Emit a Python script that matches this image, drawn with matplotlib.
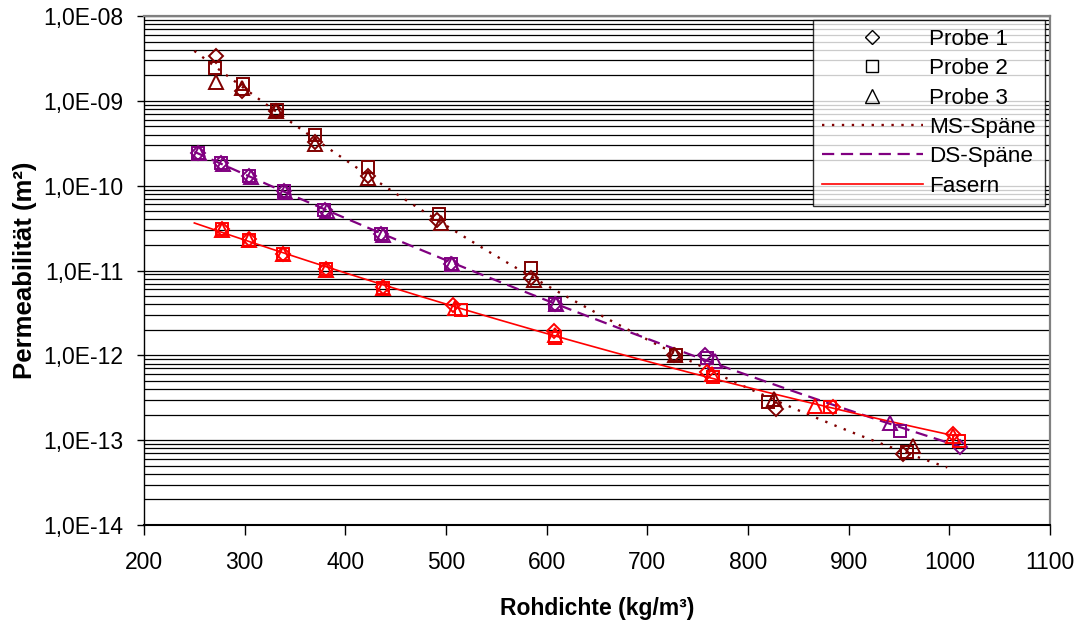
import numpy as np
import matplotlib
matplotlib.use("Agg")
import matplotlib.pyplot as plt
from matplotlib.lines import Line2D
from matplotlib.ticker import FuncFormatter, LogLocator, NullFormatter

plt.rcParams['font.family'] = ['Liberation Sans', 'DejaVu Sans']

# Rohdichte (kg/m³) und Permeabilität (m²) je Material und Probe
ms_x1 = [271.5, 297, 331, 370, 423, 491, 584, 726, 828, 954]
ms_y1 = [3.4e-9, 1.32e-9, 7.6e-10, 3.3e-10, 1.29e-10, 3.9e-11, 8.2e-12, 1.0e-12, 2.32e-13, 6.85e-14]
ms_x2 = [271, 298, 332, 370, 423, 493, 584, 728, 820, 958]
ms_y2 = [2.43e-9, 1.58e-9, 7.8e-10, 3.98e-10, 1.64e-10, 4.68e-11, 1.07e-11, 1.02e-12, 2.8e-13, 7.2e-14]
ms_x3 = [272, 297, 331, 370, 423, 495, 587, 727, 826, 964]
ms_y3 = [1.68e-9, 1.41e-9, 7.5e-10, 3.1e-10, 1.23e-10, 3.67e-11, 7.8e-12, 1.0e-12, 3.09e-13, 8.6e-14]

ds_x1 = [254, 276.5, 304.5, 339, 380, 435, 505, 608, 757, 1010.5]
ds_y1 = [2.43e-10, 1.85e-10, 1.29e-10, 8.6e-11, 5.2e-11, 2.66e-11, 1.2e-11, 4.07e-12, 1.02e-12, 8.2e-14]
ds_x2 = [254, 276.5, 304.5, 339, 379, 435, 505, 608, 759, 951]
ds_y2 = [2.43e-10, 1.85e-10, 1.29e-10, 8.6e-11, 5.2e-11, 2.66e-11, 1.2e-11, 4.07e-12, 9.3e-13, 1.29e-13]
ds_x3 = [255, 278, 306, 340, 381.5, 437, 506, 609, 767, 941]
ds_y3 = [2.4e-10, 1.82e-10, 1.27e-10, 8.4e-11, 5.0e-11, 2.6e-11, 1.18e-11, 4.0e-12, 8.6e-13, 1.58e-13]

fa_x1 = [277, 304.5, 338, 380.5, 437, 507, 607, 759, 884, 1004]
fa_y1 = [3.1e-11, 2.32e-11, 1.58e-11, 1.05e-11, 6.4e-12, 3.9e-12, 1.93e-12, 6.4e-13, 2.43e-13, 1.17e-13]
fa_x2 = [277, 304.5, 338, 380.5, 437, 514.5, 608, 765.5, 881, 1010]
fa_y2 = [3.05e-11, 2.3e-11, 1.55e-11, 1.03e-11, 6.3e-12, 3.46e-12, 1.62e-12, 5.5e-13, 2.43e-13, 9.8e-14]
fa_x3 = [277, 304.5, 338, 380.5, 437, 509, 608, 764, 866.5, 1004]
fa_y3 = [3.0e-11, 2.28e-11, 1.55e-11, 1.02e-11, 6.2e-12, 3.6e-12, 1.73e-12, 6.0e-13, 2.5e-13, 1.12e-13]

materials = ['MS-Späne', 'DS-Späne', 'Fasern']
probes = ['Probe 1', 'Probe 2', 'Probe 3']

fig = plt.figure(figsize=(10.8, 6.26), dpi=100)
ax = fig.add_axes([144 / 1080, 1 - 525 / 626, 906 / 1080, 509 / 626])

colors = {'MS-Späne': '#800000', 'DS-Späne': '#800080', 'Fasern': '#ff0000'}
styles = {'MS-Späne': (0, (1.0, 3.2)), 'DS-Späne': (0, (5.5, 3.0)), 'Fasern': '-'}
widths = {'MS-Späne': 1.7, 'DS-Späne': 1.6, 'Fasern': 1.2}
markers = [('D', 7), ('s', 8.5), ('^', 9.5)]
trend_range = {'MS-Späne': (250, 998), 'DS-Späne': (250, 1010), 'Fasern': (250, 1005)}

data = {
    'MS-Späne': [(ms_x1, ms_y1), (ms_x2, ms_y2), (ms_x3, ms_y3)],
    'DS-Späne': [(ds_x1, ds_y1), (ds_x2, ds_y2), (ds_x3, ds_y3)],
    'Fasern': [(fa_x1, fa_y1), (fa_x2, fa_y2), (fa_x3, fa_y3)],
}

for mat in materials:
    c = colors[mat]
    # Trendlinie: quadratischer Fit von log10(k) über alle drei Proben
    xs = np.concatenate([np.asarray(x, float) for x, _ in data[mat]])
    ys = np.concatenate([np.log10(y) for _, y in data[mat]])
    coef = np.polyfit(xs, ys, 2)
    xt = np.linspace(*trend_range[mat], 300)
    ax.plot(xt, 10 ** np.polyval(coef, xt), color=c, linestyle=styles[mat],
            linewidth=widths[mat], zorder=3)
    for (x, y), (m, ms) in zip(data[mat], markers):
        ax.plot(x, y, linestyle='none', marker=m, markersize=ms,
                markerfacecolor='none', markeredgecolor=c, markeredgewidth=1.4, zorder=4)

ax.set_yscale('log')
ax.set_xlim(200, 1100)
ax.set_ylim(1e-14, 1e-8)
ax.set_xticks(np.arange(200, 1101, 100))


def sci_comma(v, pos):
    e = int(np.round(np.log10(v)))
    return f"1,0E{e:+03d}"


ax.yaxis.set_major_locator(LogLocator(base=10, numticks=10))
ax.yaxis.set_major_formatter(FuncFormatter(sci_comma))
ax.yaxis.set_minor_locator(LogLocator(base=10, subs=np.arange(2, 10), numticks=100))
ax.yaxis.set_minor_formatter(NullFormatter())

ax.grid(True, which='both', axis='y', color='black', linewidth=0.9)
ax.set_axisbelow(True)

ax.tick_params(axis='y', which='major', direction='out', length=5, width=1, pad=10, labelsize=16.5)
ax.tick_params(axis='y', which='minor', length=0)
ax.tick_params(axis='x', direction='out', length=7, width=1, pad=12, labelsize=16.5)

for side in ('top', 'right'):
    ax.spines[side].set_color('#808080')
    ax.spines[side].set_linewidth(1.6)
ax.spines['left'].set_linewidth(1.0)
ax.spines['bottom'].set_linewidth(1.5)

ax.set_xlabel('Rohdichte (kg/m³)', fontsize=16.5, fontweight='bold', labelpad=16)
ax.set_ylabel('Permeabilität (m²)', fontsize=18.5, fontweight='bold', labelpad=4)

handles = [Line2D([], [], linestyle='none', marker=m, markersize=ms, markerfacecolor='none',
                  markeredgecolor='black', markeredgewidth=1.0) for m, ms in markers]
handles += [Line2D([], [], color=colors[mat], linestyle=styles[mat],
                   linewidth=widths[mat]) for mat in materials]
leg = ax.legend(handles, probes + materials, loc='upper right',
                bbox_to_anchor=(1045 / 1080, 1 - 20 / 626), bbox_transform=fig.transFigure,
                fontsize=16.2, frameon=True, fancybox=False, handlelength=4.5,
                handletextpad=0.28, labelspacing=0.37, borderpad=0.4, borderaxespad=0)
leg.get_frame().set_edgecolor('black')
leg.get_frame().set_linewidth(1.0)

fig.savefig('out.png', dpi=100)
